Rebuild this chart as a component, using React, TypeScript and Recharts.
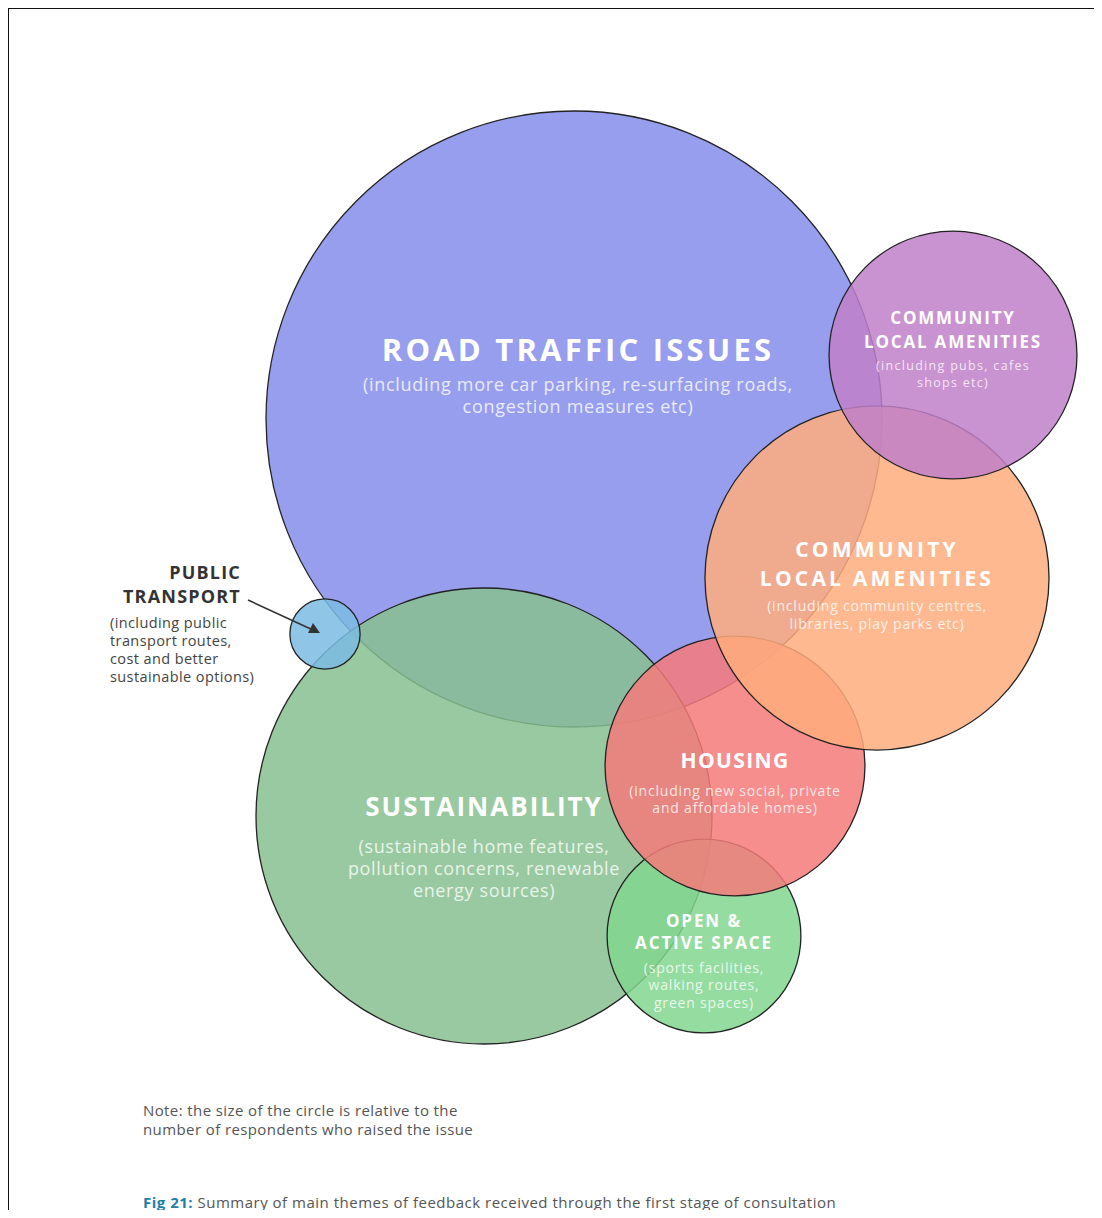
import { Scatter, ScatterChart, XAxis, YAxis, ZAxis } from "recharts";

// themes in drawing order (later ones sit on top)
const themes = ["road", "sustainability", "publicTransport", "openSpace", "housing", "amenitiesCentres", "amenitiesPubs"];
const titles = [
  ["ROAD TRAFFIC ISSUES"],
  ["SUSTAINABILITY"],
  ["PUBLIC", "TRANSPORT"],
  ["OPEN &", "ACTIVE SPACE"],
  ["HOUSING"],
  ["COMMUNITY", "LOCAL AMENITIES"],
  ["COMMUNITY", "LOCAL AMENITIES"],
];
const subtitles = [
  ["(including more car parking, re-surfacing roads,", "congestion measures etc)"],
  ["(sustainable home features,", "pollution concerns, renewable", "energy sources)"],
  ["(including public", "transport routes,", "cost and better", "sustainable options)"],
  ["(sports facilities,", "walking routes,", "green spaces)"],
  ["(including new social, private", "and affordable homes)"],
  ["(including community centres,", "libraries, play parks etc)"],
  ["(including pubs, cafes", "shops etc)"],
];
// relative number of respondents (circle area)
const respondents = [100, 54.8, 1.3, 9.9, 17.8, 31.2, 16.2];
// bubble centres on the layout grid
const posX = [574, 484, 325, 704, 735, 877, 953];
const posY = [419, 816, 634, 936, 766, 578, 355];

const data = themes.map((id, i) => ({ id, x: posX[i], y: posY[i], respondents: respondents[i], i }));

const fills = ["#868deb", "#87bf8f", "#7bbbe2", "#83d68f", "#f47a7a", "#ffad7e", "#bf7fc8"];

// label placement relative to each bubble centre
const labelCfg = [
  { dx: 4, dy: -70, ts: 31, tls: 3.2, tg: 24, ss: 18, sls: 0.7, sg: 22, so: 35, inside: true },
  { dx: 0, dy: -10, ts: 26, tls: 2.0, tg: 24, ss: 18, sls: 0.65, sg: 22, so: 40, inside: true },
  { dx: -84, dy: -62, ts: 18, tls: 1.2, tg: 24, ss: 14.5, sls: 0.4, sg: 18, so: 50, inside: false },
  { dx: 0, dy: -16, ts: 17, tls: 1.9, tg: 22, ss: 14, sls: 0.8, sg: 17.5, so: 47, inside: true },
  { dx: 0, dy: -6, ts: 21, tls: 1.35, tg: 22, ss: 14, sls: 0.8, sg: 17, so: 30, inside: true },
  { dx: 0, dy: -29, ts: 21, tls: 3.2, tg: 29, ss: 14, sls: 0.8, sg: 18, so: 56, inside: true },
  { dx: 0, dy: -38, ts: 17, tls: 1.8, tg: 24, ss: 12.5, sls: 1.3, sg: 16.5, so: 48.5, inside: true },
];

const font = "'Open Sans', sans-serif";

function Bubble(props: any) {
  const { cx, cy, width, payload } = props;
  return (
    <circle cx={cx} cy={cy} r={width / 2} fill={fills[payload.i]} fillOpacity={0.85} stroke="#222" strokeWidth={1.3} />
  );
}

function BubbleLabel(props: any) {
  const { cx, cy, payload } = props;
  const i = payload.i;
  const c = labelCfg[i];
  const lx = cx + c.dx;
  const ly = cy + c.dy;
  const outside = !c.inside;
  const title = (
    <text
      x={lx}
      y={ly}
      textAnchor={outside ? "end" : "middle"}
      fontSize={c.ts}
      fontWeight={700}
      fill={outside ? "#333" : "#fff"}
      letterSpacing={c.tls}
    >
      {titles[i].map((t, k) => (
        <tspan key={k} x={lx} y={ly + k * c.tg} dominantBaseline="central">
          {t}
        </tspan>
      ))}
    </text>
  );
  const subX = outside ? cx - 215 : lx;
  return (
    <g fontFamily={font}>
      {title}
      {subtitles[i].map((t, k) => (
        <text
          key={k}
          x={subX}
          y={ly + c.so + k * c.sg}
          textAnchor={outside ? "start" : "middle"}
          dominantBaseline="central"
          fontSize={c.ss}
          fill={outside ? "#444" : "#fff"}
          fillOpacity={outside ? 1 : 0.8}
          letterSpacing={c.sls}
        >
          {t}
        </text>
      ))}
      {outside && (
        <g>
          <line x1={cx - 77} y1={cy - 34} x2={cx - 12} y2={cy - 4} stroke="#333" strokeWidth={1.6} />
          <polygon points={`${cx - 5},${cy - 1} ${cx - 17},${cy - 1} ${cx - 12},${cy - 11}`} fill="#333" />
        </g>
      )}
    </g>
  );
}

export default function App() {
  return (
    <div style={{ position: "relative", width: 1094, height: 1202 }}>
      <div
        style={{
          position: "absolute",
          left: 0,
          top: -1,
          width: 1094,
          height: 1211,
          boxSizing: "border-box",
          borderTop: "2px solid #111",
          borderLeft: "1px solid #111",
        }}
      />
      <div style={{ position: "absolute", left: -8, top: -8 }}>
        <ScatterChart width={1102} height={1218} margin={{ top: 0, right: 0, bottom: 0, left: 0 }}>
          <XAxis type="number" dataKey="x" domain={[0, 1102]} hide />
          <YAxis type="number" dataKey="y" domain={[0, 1218]} reversed hide />
          <ZAxis type="number" dataKey="respondents" domain={[0, 100]} range={[0, Math.PI * 308 * 308]} />
          <Scatter data={data} shape={Bubble} isAnimationActive={false} />
          <Scatter data={data} shape={BubbleLabel} isAnimationActive={false} />
        </ScatterChart>
      </div>
      <div
        style={{
          position: "absolute",
          left: 135,
          top: 1093,
          fontFamily: font,
          fontSize: 15,
          letterSpacing: 0.4,
          lineHeight: "19px",
          color: "#555",
        }}
      >
        Note: the size of the circle is relative to the
        <br />
        number of respondents who raised the issue
      </div>
      <div
        style={{
          position: "absolute",
          left: 135,
          top: 1184,
          fontFamily: font,
          fontSize: 15,
          letterSpacing: 0.5,
          lineHeight: "20px",
          color: "#555",
          whiteSpace: "nowrap",
        }}
      >
        <span style={{ color: "#1f7fa3", fontWeight: 700 }}>Fig 21:</span> Summary of main themes of feedback received through the first stage of consultation
      </div>
    </div>
  );
}
